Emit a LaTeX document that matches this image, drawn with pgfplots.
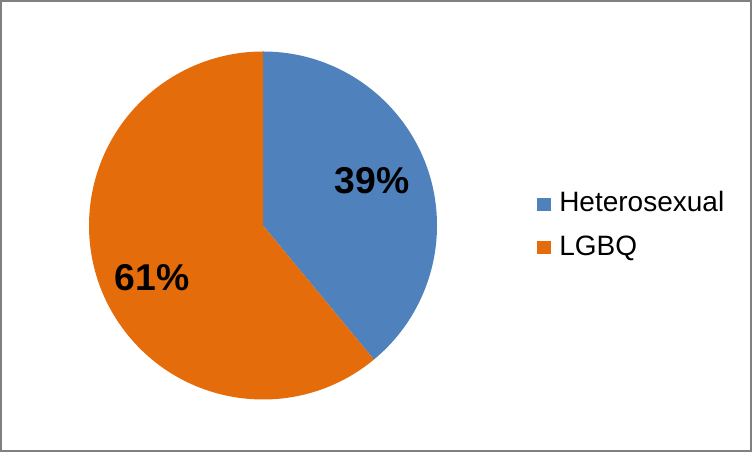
\documentclass[border=0pt]{standalone}
\usepackage{pgfplots}
\usepackage{pgfplotstable}
\pgfplotsset{compat=1.18}
\usepackage{fontspec}
\setmainfont{Liberation Sans}
\definecolor{hetero}{HTML}{4F81BD}
\definecolor{lgbq}{HTML}{E46C0A}
\definecolor{frame}{HTML}{808080}
\pgfplotstableread{
label value
Heterosexual 39
LGBQ 61
}\piedata
\begin{document}
\begin{tikzpicture}
\pgfplotstablegetelem{0}{value}\of\piedata \let\va\pgfplotsretval
\pgfplotstablegetelem{1}{value}\of\piedata \let\vb\pgfplotsretval
\pgfmathsetmacro{\aend}{90-3.6*\va}
\pgfmathsetmacro{\bend}{\aend-3.6*\vb}
\begin{axis}[
  scale only axis, width=564pt, height=339pt,
  xmin=0, xmax=752, ymin=0, ymax=452,
  hide axis, clip=false,
]
\fill[hetero] (axis cs:263,226.5) -- ++(90:130.5pt) arc[start angle=90, end angle=\aend, radius=130.5pt] -- cycle;
\fill[lgbq] (axis cs:263,226.5) -- ++(\aend:130.5pt) arc[start angle=\aend, end angle=\bend, radius=130.5pt] -- cycle;
\node[font=\bfseries\fontsize{28}{32}\selectfont] at (axis cs:372,271) {39\%};
\node[font=\bfseries\fontsize{28}{32}\selectfont] at (axis cs:152,174) {61\%};
\fill[hetero] (axis cs:537,241) rectangle (axis cs:551,254);
\fill[lgbq] (axis cs:537,198) rectangle (axis cs:551,211);
\node[anchor=base west, inner sep=0pt, font=\fontsize{21}{25}\selectfont] at (axis cs:559,240) {Heterosexual};
\node[anchor=base west, inner sep=0pt, font=\fontsize{21}{25}\selectfont] at (axis cs:559,196) {LGBQ};
\draw[frame, line width=1.5pt] (axis cs:1,1) rectangle (axis cs:751,451);
\end{axis}
\end{tikzpicture}
\end{document}
